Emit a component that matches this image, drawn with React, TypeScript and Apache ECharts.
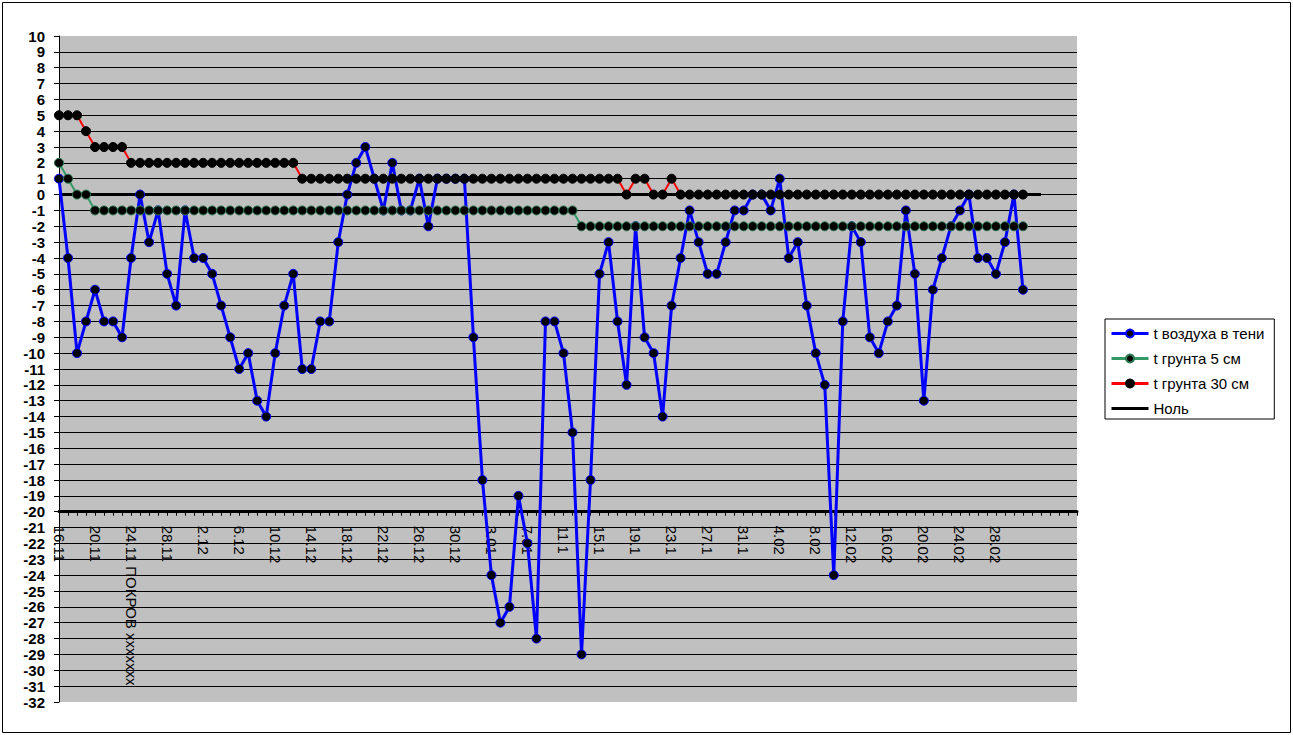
import React, { useEffect, useRef } from 'react';
import * as echarts from 'echarts';

// Tick labels shown every 4th day on the category axis
const tickLabels = [
  '16.11', '20.11', '24.11 ПОКРОВ xxxxxxx', '28.11', '2.12', '6.12', '10.12', '14.12',
  '18.12', '22.12', '26.12', '30.12', '3.01', '7.01', '11.1', '15.1', '19.1', '23.1',
  '27.1', '31.1', '4.02', '8.02', '12.02', '16.02', '20.02', '24.02', '28.02',
];
const labelStep = 4;
const categoryCount = 114;

const seriesNames = ['t воздуха в тени', 't грунта 5 см', 't грунта 30 см', 'Ноль'];

const airTemp = [
  1, -4, -10, -8, -6, -8, -8, -9, -4, 0,
  -3, -1, -5, -7, -1, -4, -4, -5, -7, -9,
  -11, -10, -13, -14, -10, -7, -5, -11, -11, -8,
  -8, -3, 0, 2, 3, 1, -1, 2, -1, -1,
  1, -2, 1, 1, 1, 1, -9, -18, -24, -27,
  -26, -19, -22, -28, -8, -8, -10, -15, -29, -18,
  -5, -3, -8, -12, -2, -9, -10, -14, -7, -4,
  -1, -3, -5, -5, -3, -1, -1, 0, 0, -1,
  1, -4, -3, -7, -10, -12, -24, -8, -2, -3,
  -9, -10, -8, -7, -1, -5, -13, -6, -4, -2,
  -1, 0, -4, -4, -5, -3, 0, -6,
];

const soil5 = [
  2, 1, 0, 0, -1, -1, -1, -1, -1, -1,
  -1, -1, -1, -1, -1, -1, -1, -1, -1, -1,
  -1, -1, -1, -1, -1, -1, -1, -1, -1, -1,
  -1, -1, -1, -1, -1, -1, -1, -1, -1, -1,
  -1, -1, -1, -1, -1, -1, -1, -1, -1, -1,
  -1, -1, -1, -1, -1, -1, -1, -1, -2, -2,
  -2, -2, -2, -2, -2, -2, -2, -2, -2, -2,
  -2, -2, -2, -2, -2, -2, -2, -2, -2, -2,
  -2, -2, -2, -2, -2, -2, -2, -2, -2, -2,
  -2, -2, -2, -2, -2, -2, -2, -2, -2, -2,
  -2, -2, -2, -2, -2, -2, -2, -2,
];

const soil30 = [
  5, 5, 5, 4, 3, 3, 3, 3, 2, 2,
  2, 2, 2, 2, 2, 2, 2, 2, 2, 2,
  2, 2, 2, 2, 2, 2, 2, 1, 1, 1,
  1, 1, 1, 1, 1, 1, 1, 1, 1, 1,
  1, 1, 1, 1, 1, 1, 1, 1, 1, 1,
  1, 1, 1, 1, 1, 1, 1, 1, 1, 1,
  1, 1, 1, 0, 1, 1, 0, 0, 1, 0,
  0, 0, 0, 0, 0, 0, 0, 0, 0, 0,
  0, 0, 0, 0, 0, 0, 0, 0, 0, 0,
  0, 0, 0, 0, 0, 0, 0, 0, 0, 0,
  0, 0, 0, 0, 0, 0, 0, 0,
];

const zeroLine = [
  0, 0, 0, 0, 0, 0, 0, 0, 0, 0,
  0, 0, 0, 0, 0, 0, 0, 0, 0, 0,
  0, 0, 0, 0, 0, 0, 0, 0, 0, 0,
  0, 0, 0, 0, 0, 0, 0, 0, 0, 0,
  0, 0, 0, 0, 0, 0, 0, 0, 0, 0,
  0, 0, 0, 0, 0, 0, 0, 0, 0, 0,
  0, 0, 0, 0, 0, 0, 0, 0, 0, 0,
  0, 0, 0, 0, 0, 0, 0, 0, 0, 0,
  0, 0, 0, 0, 0, 0, 0, 0, 0, 0,
  0, 0, 0, 0, 0, 0, 0, 0, 0, 0,
  0, 0, 0, 0, 0, 0, 0, 0, 0, 0,
];

const yMin = -32;
const yMax = 10;
const xAxisCross = -20;

const FONT = 'Arial, "Liberation Sans", sans-serif';

export default function App() {
  const ref = useRef<HTMLDivElement>(null);

  useEffect(() => {
    if (!ref.current) return;
    const chart = echarts.init(ref.current, null, { renderer: 'svg' });

    const categories = Array.from({ length: categoryCount }, (_, i) => 'd' + i);
    const labelFor = (_v: string, i: number) =>
      i % labelStep === 0 && tickLabels[i / labelStep] ? tickLabels[i / labelStep] : '';

    const gridLeft = 59;
    const gridTop = 36;
    const gridWidth = 1018;
    const gridHeight = 666;
    const axisGridHeight = (gridHeight * (yMax - xAxisCross)) / (yMax - yMin);

    const markerSeries = (name: string, data: number[], lineColor: string, lineWidth: number, rim: string, z: number) => ({
      name, type: 'line', xAxisIndex: 0, yAxisIndex: 0, data,
      symbol: 'circle', symbolSize: 9, showAllSymbol: true,
      lineStyle: { color: lineColor, width: lineWidth },
      itemStyle: { color: '#000', borderColor: rim, borderWidth: 1 },
      emphasis: { disabled: true },
      z,
    });

    const option: any = {
      animation: false,
      backgroundColor: '#ffffff',
      textStyle: { fontFamily: FONT },
      grid: [
        {
          left: gridLeft, top: gridTop, width: gridWidth, height: gridHeight,
          show: true, backgroundColor: '#C0C0C0', borderWidth: 0,
        },
        {
          left: gridLeft, top: gridTop, width: gridWidth, height: axisGridHeight,
          show: false,
        },
      ],
      xAxis: [
        {
          type: 'category', gridIndex: 0, data: categories, boundaryGap: false, show: false,
        },
        {
          type: 'category', gridIndex: 1, data: categories, boundaryGap: false,
          axisLine: { show: true, lineStyle: { color: '#000', width: 3 } },
          axisTick: { show: true, interval: 0, length: 4, lineStyle: { color: '#000', width: 1 } },
          axisLabel: {
            interval: 0, rotate: -90, margin: 14, color: '#000', fontSize: 15,
            fontFamily: FONT, formatter: labelFor,
          },
          splitLine: { show: false },
        },
      ],
      yAxis: [
        {
          type: 'value', gridIndex: 0, min: yMin, max: yMax, interval: 1,
          axisLine: { show: true, lineStyle: { color: '#000', width: 1 } },
          axisTick: { show: true, length: 5, lineStyle: { color: '#000' } },
          axisLabel: {
            color: '#000', fontSize: 15, fontWeight: 'bold', margin: 14, fontFamily: FONT,
          },
          splitLine: {
            show: true, showMinLine: false, showMaxLine: false,
            lineStyle: { color: '#000', width: 1 },
          },
        },
        { type: 'value', gridIndex: 1, min: 0, max: 1, show: false },
      ],
      legend: {
        orient: 'vertical',
        left: 1105,
        top: 319,
        data: [
          seriesNames[0],
          seriesNames[1],
          seriesNames[2],
          { name: seriesNames[3], itemStyle: { color: 'rgba(0,0,0,0)', borderColor: 'rgba(0,0,0,0)', opacity: 0 } },
        ],
        itemWidth: 37,
        itemHeight: 10,
        itemGap: 10,
        padding: [7, 10, 3, 5],
        backgroundColor: '#fff',
        borderColor: '#000',
        borderWidth: 1,
        borderRadius: 0,
        lineStyle: { width: 3 },
        textStyle: { fontSize: 15, color: '#000', fontFamily: FONT, lineHeight: 15 },
      },
      graphic: [
        {
          type: 'rect', silent: true,
          shape: { x: 2.5, y: 2.5, width: 1288, height: 730 },
          style: { fill: 'none', stroke: '#000', lineWidth: 1 },
        },
      ],
      series: [
        {
          name: seriesNames[3], type: 'line', xAxisIndex: 0, yAxisIndex: 0, data: zeroLine,
          symbol: 'none', lineStyle: { color: '#000', width: 3 }, itemStyle: { color: '#000' },
          emphasis: { disabled: true }, z: 2,
        },
        markerSeries(seriesNames[0], airTemp, '#0000FF', 3, '#0000FF', 3),
        markerSeries(seriesNames[1], soil5, '#339966', 2, '#2a7a52', 4),
        markerSeries(seriesNames[2], soil30, '#FF0000', 2, '#000', 5),
      ],
    };

    chart.setOption(option);
    return () => chart.dispose();
  }, []);

  return (
    <div
      ref={ref}
      style={{ position: 'absolute', left: 0, top: 0, width: 1293, height: 735, background: '#fff' }}
    />
  );
}
